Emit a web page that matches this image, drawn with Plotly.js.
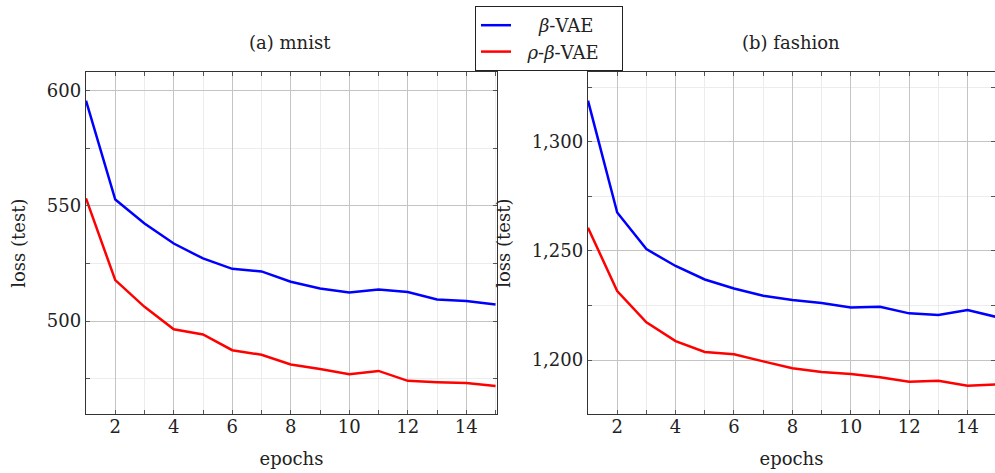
<!DOCTYPE html>
<html>
<head>
<meta charset="utf-8">
<script src="https://cdn.plot.ly/plotly-3.0.1.min.js"></script>
<style>html,body{margin:0;padding:0;background:#fff;}#chart{width:995px;height:473px;}</style>
</head>
<body>
<div id="chart"></div>
<script>
const epochs = [1,2,3,4,5,6,7,8,9,10,11,12,13,14,15];
const mnistBetaVAE = [595.7,552.8,542.4,533.7,527.2,522.7,521.6,517.1,514.2,512.4,513.7,512.6,509.4,508.7,507.2];
const mnistRhoBetaVAE = [553.3,517.8,506.2,496.5,494.2,487.4,485.4,481.2,479.2,477.0,478.4,474.1,473.5,473.1,471.9];
const fashionBetaVAE = [1318.8,1267.6,1250.8,1243.1,1236.9,1232.8,1229.5,1227.5,1226.1,1224.1,1224.4,1221.4,1220.6,1222.9,1219.7];
const fashionRhoBetaVAE = [1260.6,1231.6,1217.3,1208.7,1203.7,1202.7,1199.4,1196.3,1194.5,1193.6,1192.1,1190.1,1190.5,1188.2,1188.9];
const seriesNames = ['<i>β</i>-VAE', '<i>ρ</i>-<i>β</i>-VAE'];
const panelTitles = ['(a) mnist', '(b) fashion'];
const xTitle = 'epochs';
const yTitle = 'loss (test)';

const FONT = 'DejaVu Serif';
const FS = 18;
const TXT = '#222';
const BLUE = '#0000ff', RED = '#ff0000';
const NB = '\u00a0';
// legend padding to centre the entries inside a wider box (as in the reference)
const legendNames = [NB.repeat(4) + seriesNames[0] + NB.repeat(4), NB.repeat(2) + seriesNames[1] + NB.repeat(2)];

const traces = [
  {x: epochs, y: mnistBetaVAE, name: legendNames[0], type: 'scatter', mode: 'lines', line: {color: BLUE, width: 2.5}, xaxis: 'x', yaxis: 'y'},
  {x: epochs, y: mnistRhoBetaVAE, name: legendNames[1], type: 'scatter', mode: 'lines', line: {color: RED, width: 2.5}, xaxis: 'x', yaxis: 'y'},
  {x: epochs, y: fashionBetaVAE, name: legendNames[0], type: 'scatter', mode: 'lines', line: {color: BLUE, width: 2.5}, xaxis: 'x2', yaxis: 'y2', showlegend: false},
  {x: epochs, y: fashionRhoBetaVAE, name: legendNames[1], type: 'scatter', mode: 'lines', line: {color: RED, width: 2.5}, xaxis: 'x2', yaxis: 'y2', showlegend: false}
];

function xAxis(domain, range, anchor) {
  return {
    domain: domain, range: range, anchor: anchor,
    tick0: 0, dtick: 2, ticks: 'inside', ticklen: 4, tickcolor: '#555', tickwidth: 1,
    showline: true, linecolor: '#333', linewidth: 1.2, mirror: 'ticks',
    showgrid: true, gridcolor: '#c4c4c4', gridwidth: 1, zeroline: false,
    minor: {dtick: 1, tick0: 0, ticks: 'inside', ticklen: 4, tickcolor: '#555', showgrid: true, gridcolor: '#ececec', gridwidth: 1},
    tickfont: {family: FONT, size: FS, color: TXT},
    ticklabelstandoff: -4,
    title: {text: xTitle, font: {family: FONT, size: FS, color: TXT}, standoff: 16},
    fixedrange: true
  };
}
function yAxis(domain, range, anchor, fmt) {
  return {
    domain: domain, range: range, anchor: anchor,
    tick0: 0, dtick: 50, ticks: 'inside', ticklen: 4, tickcolor: '#555', tickwidth: 1,
    showline: true, linecolor: '#333', linewidth: 1.2, mirror: 'ticks',
    showgrid: true, gridcolor: '#c4c4c4', gridwidth: 1, zeroline: false,
    minor: {dtick: 25, tick0: 0, ticks: 'inside', ticklen: 4, tickcolor: '#555', showgrid: true, gridcolor: '#ececec', gridwidth: 1},
    tickformat: fmt,
    tickfont: {family: FONT, size: FS, color: TXT},
    title: {text: yTitle, font: {family: FONT, size: FS, color: TXT}, standoff: 16},
    fixedrange: true
  };
}

const yDom = [(473 - 414) / 473, (473 - 72.3) / 473];
const layout = {
  width: 995, height: 473,
  margin: {l: 0, r: 0, t: 0, b: 0},
  paper_bgcolor: '#fff', plot_bgcolor: '#fff',
  font: {family: FONT, size: FS, color: TXT},
  xaxis: xAxis([86 / 995, 497 / 995], [1, 15.05], 'y'),
  yaxis: yAxis(yDom, [459.7, 608], 'x', 'd'),
  xaxis2: xAxis([588 / 995, 1], [1, 14.94], 'y2'),
  yaxis2: yAxis(yDom, [1175.3, 1331.8], 'x2', ','),
  showlegend: true,
  legend: {
    x: 475 / 995, y: 1 - 6 / 473, xanchor: 'left', yanchor: 'top',
    bordercolor: '#222', borderwidth: 1, bgcolor: '#fff',
    font: {family: FONT, size: FS, color: TXT}, itemwidth: 30,
    tracegroupgap: 0
  },
  annotations: [
    {text: panelTitles[0], xref: 'paper', yref: 'paper', x: 290 / 995, y: 1 - 42 / 473, xanchor: 'center', yanchor: 'middle', showarrow: false, font: {family: FONT, size: FS, color: TXT}},
    {text: panelTitles[1], xref: 'paper', yref: 'paper', x: 791 / 995, y: 1 - 42 / 473, xanchor: 'center', yanchor: 'middle', showarrow: false, font: {family: FONT, size: FS, color: TXT}}
  ]
};

Plotly.newPlot('chart', traces, layout, {displayModeBar: false, staticPlot: true});
</script>
</body>
</html>
